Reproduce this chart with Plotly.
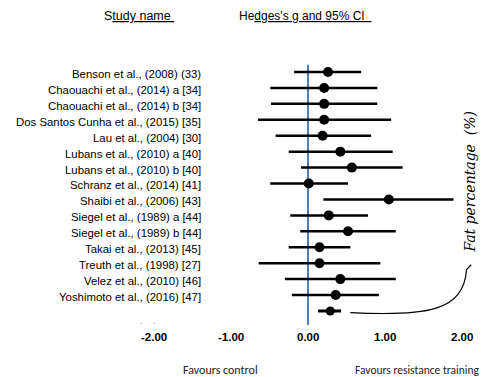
import plotly.graph_objects as go

studies = [
    "Benson et al., (2008) (33)",
    "Chaouachi et al., (2014) a [34]",
    "Chaouachi et al., (2014) b [34]",
    "Dos Santos Cunha et al., (2015) [35]",
    "Lau et al., (2004) [30]",
    "Lubans et al., (2010) a [40]",
    "Lubans et al., (2010) b [40]",
    "Schranz et al., (2014) [41]",
    "Shaibi et al., (2006) [43]",
    "Siegel et al., (1989) a [44]",
    "Siegel et al., (1989) b [44]",
    "Takai et al., (2013) [45]",
    "Treuth et al., (1998) [27]",
    "Velez et al., (2010) [46]",
    "Yoshimoto et al., (2016) [47]",
]
g_values = [0.26, 0.21, 0.21, 0.21, 0.19, 0.42, 0.57, 0.01, 1.05, 0.27, 0.52, 0.15, 0.15, 0.42, 0.36]
ci_lower = [-0.18, -0.49, -0.48, -0.65, -0.42, -0.25, -0.09, -0.49, 0.20, -0.23, -0.10, -0.25, -0.64, -0.30, -0.21]
ci_upper = [0.69, 0.90, 0.90, 1.08, 0.82, 1.10, 1.23, 0.52, 1.89, 0.78, 1.14, 0.55, 0.94, 1.14, 0.92]

summary_g = 0.29
summary_lower = 0.13
summary_upper = 0.43

tick_vals = [-2, -1, 0, 1, 2]
tick_text = ["-2.00", "-1.00", "0.00", "1.00", "2.00"]

rows = list(range(len(studies)))
summary_row = len(studies)

LABEL_FONT = "Liberation Sans, Arial, sans-serif"

fig = go.Figure()

fig.add_trace(go.Scatter(
    x=g_values, y=rows, mode="markers",
    marker=dict(color="black", size=10),
    error_x=dict(type="data", symmetric=False,
                 array=[u - g for u, g in zip(ci_upper, g_values)],
                 arrayminus=[g - l for l, g in zip(ci_lower, g_values)],
                 color="black", thickness=2.5, width=0),
    showlegend=False, hoverinfo="skip",
))

fig.add_trace(go.Scatter(
    x=[summary_g], y=[summary_row], mode="markers",
    marker=dict(color="black", size=9),
    error_x=dict(type="data", symmetric=False,
                 array=[summary_upper - summary_g],
                 arrayminus=[summary_g - summary_lower],
                 color="black", thickness=3, width=0),
    showlegend=False, hoverinfo="skip",
))

# zero line
fig.add_shape(type="line", xref="x", yref="y", x0=0, x1=0, y0=-0.45, y1=15.9,
              line=dict(color="#4a7ebb", width=2), layer="below")

annotations = []
for i, name in enumerate(studies):
    annotations.append(dict(x=-1.364, y=i + 0.12, xref="x", yref="y", text=name,
                            showarrow=False, xanchor="right", yanchor="middle",
                            font=dict(family=LABEL_FONT, size=11.4, color="black")))

for v, t in zip(tick_vals, tick_text):
    annotations.append(dict(x=v, y=-0.038, xref="x", yref="paper", text="<b>%s</b>" % t,
                            showarrow=False, xanchor="center", yanchor="middle",
                            font=dict(family=LABEL_FONT, size=11.5, color="black")))

annotations += [
    dict(x=-2.195, y=-3.52, xref="x", yref="y", text="S<u>tudy name </u>",
         showarrow=False, xanchor="center", yanchor="middle",
         font=dict(family=LABEL_FONT, size=12.5, color="black")),
    dict(x=-0.92, y=-3.52, xref="x", yref="y", text="He<u>dges's g and 95% CI  </u>",
         showarrow=False, xanchor="left", yanchor="middle",
         font=dict(family=LABEL_FONT, size=12, color="black")),
    dict(x=-1.14, y=-0.142, xref="x", yref="paper", text="Favours control",
         showarrow=False, xanchor="center", yanchor="middle",
         font=dict(family="Carlito, Lato, sans-serif", size=12, color="#222")),
    dict(x=1.42, y=-0.142, xref="x", yref="paper", text="Favours resistance training",
         showarrow=False, xanchor="center", yanchor="middle",
         font=dict(family="Carlito, Lato, sans-serif", size=11.5, color="#222")),
    dict(x=2.10, y=6.9, xref="x", yref="y", text="Fat percentage  (%)",
         showarrow=False, textangle=-90, xanchor="center", yanchor="middle",
         font=dict(family="DejaVu Serif, serif", size=14, color="black", style="italic")),
    dict(x=-2.08, y=15.65, xref="x", yref="y", text=".     .",
         showarrow=False, xanchor="center", yanchor="middle",
         font=dict(family="Liberation Sans", size=8, color="#555")),
]

# hand-drawn curve linking the summary to the annotation
fig.add_shape(type="path", xref="x", yref="y",
              path="M 0.55,15.1 C 1.55,15.35 2.02,15.0 2.06,12.4 L 2.12,12.1",
              line=dict(color="black", width=1.2))

fig.update_layout(
    width=482, height=369,
    margin=dict(l=0, r=0, t=0, b=52),
    paper_bgcolor="white", plot_bgcolor="white",
    annotations=annotations,
    xaxis=dict(range=[-3.896, 2.364], showticklabels=False,
               showgrid=False, zeroline=False, showline=False, ticks=""),
    yaxis=dict(range=[15.88, -4.017], showticklabels=False, showgrid=False,
               zeroline=False, showline=False, ticks=""),
)

fig.write_html("out.html")
